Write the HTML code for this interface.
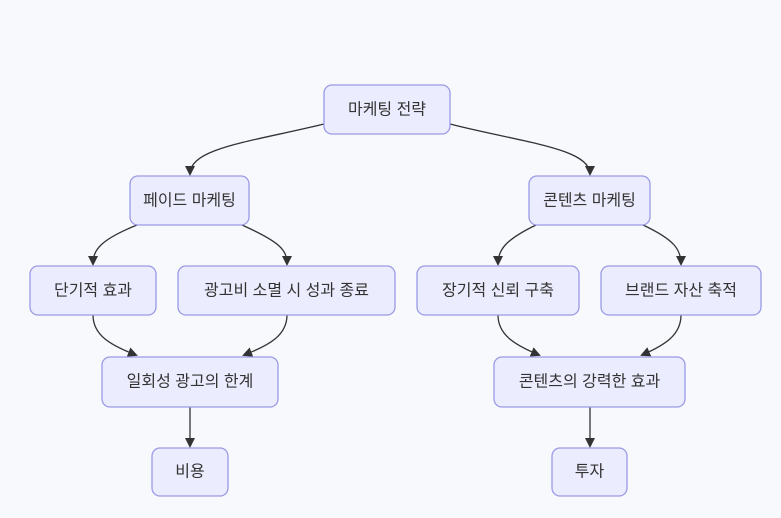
<!DOCTYPE html>
<html><head><meta charset="utf-8"><style>
html,body{margin:0;padding:0;background:#f8f9fc;}
svg{display:block}
text{font-family:"Liberation Sans","Noto Sans CJK KR",sans-serif;font-size:16px;fill:#333;text-anchor:middle;dominant-baseline:central}
rect{fill:#ececff;stroke:#9a9ae6;stroke-width:1.3}
path{fill:none;stroke:#333;stroke-width:1.3}
</style></head><body>
<svg width="781" height="518" viewBox="0 0 781 518">
<defs><marker id="a" markerWidth="10" markerHeight="10" refX="8" refY="5" orient="auto" markerUnits="userSpaceOnUse"><path d="M0,0 L10,5 L0,10 z" style="fill:#333;stroke:none"/></marker></defs>
<path marker-end="url(#a)" d="M324,124 C250,142 190,148 190,174"/>
<path marker-end="url(#a)" d="M450,124 C520,142 590,148 590,174"/>
<path marker-end="url(#a)" d="M137,225 C100,240 93,250 93,264"/>
<path marker-end="url(#a)" d="M242,225 C280,242 287,250 287,264"/>
<path marker-end="url(#a)" d="M536,225 C505,240 498,250 498,264"/>
<path marker-end="url(#a)" d="M643,225 C675,240 681,250 681,264"/>
<path marker-end="url(#a)" d="M93,315 C93,335 110,345 136,355"/>
<path marker-end="url(#a)" d="M287,315 C287,335 270,345 244,355"/>
<path marker-end="url(#a)" d="M498,315 C498,335 515,345 539,355"/>
<path marker-end="url(#a)" d="M681,315 C681,335 665,345 642,355"/>
<path marker-end="url(#a)" d="M190,407 L190,446"/>
<path marker-end="url(#a)" d="M590,407 L590,446"/>
<rect x="324" y="85" width="126" height="49" rx="8"/><text x="387" y="110">마케팅 전략</text>
<rect x="130" y="176" width="119" height="49" rx="8"/><text x="189.5" y="201">페이드 마케팅</text>
<rect x="529" y="176" width="121" height="49" rx="8"/><text x="589.5" y="201">콘텐츠 마케팅</text>
<rect x="30" y="266" width="126" height="49" rx="8"/><text x="93" y="291">단기적 효과</text>
<rect x="178" y="266" width="217" height="49" rx="8"/><text x="286.5" y="291">광고비 소멸 시 성과 종료</text>
<rect x="417" y="266" width="162" height="49" rx="8"/><text x="498" y="291">장기적 신뢰 구축</text>
<rect x="601" y="266" width="160" height="49" rx="8"/><text x="681" y="291">브랜드 자산 축적</text>
<rect x="102" y="357" width="176" height="50" rx="8"/><text x="190" y="382">일회성 광고의 한계</text>
<rect x="494" y="357" width="191" height="50" rx="8"/><text x="589.5" y="382">콘텐츠의 강력한 효과</text>
<rect x="152" y="448" width="76" height="48" rx="8"/><text x="190" y="472">비용</text>
<rect x="552" y="448" width="75" height="48" rx="8"/><text x="589.5" y="472">투자</text>
</svg>
</body></html>
